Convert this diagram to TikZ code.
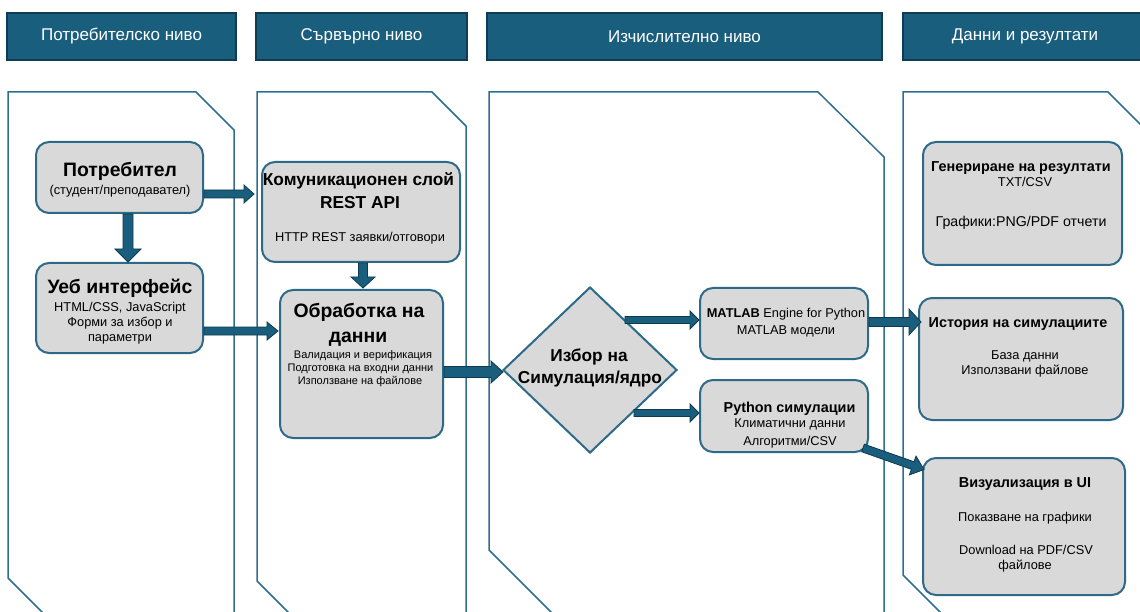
\documentclass[tikz,border=0pt]{standalone}
\usepackage{fontspec}
\setmainfont{Liberation Sans}
\usetikzlibrary{calc,shapes.geometric}

\definecolor{headfill}{HTML}{1A5E7E}
\definecolor{headline}{HTML}{0E3C52}
\definecolor{panelline}{HTML}{2E6F8F}
\definecolor{boxfill}{HTML}{D9D9D9}
\definecolor{boxline}{HTML}{2D6A88}
\definecolor{arrowfill}{HTML}{1A5E7E}
\definecolor{arrowline}{HTML}{0D3A50}

% block arrow from #1 to #2: shaft width #3, head width #4, head length #5
\newcommand{\blockarrow}[5]{%
  \coordinate (hb) at ($(#2)!#5pt!(#1)$);
  \draw[fatarrow]
    ($(#1)!#3pt/2!90:(#2)$) -- ($(hb)!#3pt/2!-90:(#1)$) -- ($(hb)!#4pt/2!-90:(#1)$)
    -- (#2) -- ($(hb)!#4pt/2!90:(#1)$) -- ($(hb)!#3pt/2!90:(#1)$)
    -- ($(#1)!#3pt/2!-90:(#2)$) -- cycle;}

\tikzset{
  header/.style={draw=headline, line width=1.2pt, fill=headfill, text=white,
    inner sep=0pt, font=\fontsize{17}{20}\selectfont},
  panel/.style={draw=panelline, line width=1.5pt, line join=miter},
  card/.style={draw=boxline, fill=boxfill, line width=2pt, rounded corners=13pt,
    inner sep=0pt},
  choice/.style={diamond, draw=boxline, fill=boxfill, line width=2pt, inner sep=0pt},
  fatarrow/.style={fill=arrowfill, draw=arrowline, line width=0.8pt, line join=miter},
  txt/.style={anchor=base, inner sep=0pt, text=black},
  big/.style={txt, font=\fontsize{19.4}{22}\selectfont\bfseries},
  mid/.style={txt, font=\fontsize{17.3}{20}\selectfont\bfseries},
  sub/.style={txt, font=\fontsize{14.4}{17}\selectfont\bfseries},
  body/.style={txt, font=\fontsize{12.8}{15}\selectfont},
  wide/.style={txt, font=\fontsize{14.2}{17}\selectfont},
  small/.style={txt, font=\fontsize{11}{13}\selectfont},
}

\begin{document}
\begin{tikzpicture}[x=1pt, y=-1pt]
\useasboundingbox (0,0) rectangle (1140,612);

% column panels
\draw[panel] (50,620) -- (8,578) -- (8,92) -- (196,92) -- (234,130) -- (234,620);
\draw[panel] (296,620) -- (257,581) -- (257,92) -- (432,92) -- (466,126) -- (466,620);
\draw[panel] (559,620) -- (489,550) -- (489,92) -- (818,92) -- (884,157) -- (884,620);
\draw[panel] (948,620) -- (903,575) -- (903,92) -- (1108,92) -- (1160,144);

% column headers
\node[header, minimum width=229pt, minimum height=47pt] (h1) at (121.5,36.5) {Потребителско ниво};
\node[header, minimum width=211pt, minimum height=47pt] (h2) at (361.5,36.5) {Сървърно ниво};
\node[header, minimum width=395pt, minimum height=47pt] (h3) at (684.5,36.5) {Изчислително ниво};
\node[header, minimum width=244pt, minimum height=47pt] (h4) at (1025,36.5) {Данни и резултати};

% user level
\node[card, minimum width=167pt, minimum height=71pt] (user) at (119.5,177.5) {};
\node[big]  (userA) at (120,177) {Потребител};
\node[body] (userB) at (120,194.5) {(студент/преподавател)};

\node[card, minimum width=167pt, minimum height=90pt] (web) at (119.5,308) {};
\node[big]  (webA) at (120,294) {Уеб интерфейс};
\node[body] (webB) at (120,311.5) {HTML/CSS, JavaScript};
\node[body] (webC) at (120,326.5) {Форми за избор и};
\node[body] (webD) at (120,341.5) {параметри};

% server level
\node[card, minimum width=198pt, minimum height=100pt] (comm) at (361,212) {};
\node[mid]  (commA) at (358.5,186) {Комуникационен слой};
\node[mid]  (commB) at (360,209) {REST API};
\node[body] (commC) at (360,241.5) {HTTP REST заявки/отговори};

\node[card, minimum width=163pt, minimum height=148pt] (proc) at (361.5,364) {};
\node[big]   (procA) at (359,317) {Обработка на};
\node[big]   (procB) at (358,342) {данни};
\node[small] (procC) at (363,358) {Валидация и верификация};
\node[small] (procD) at (360.5,371) {Подготовка на входни данни};
\node[small] (procE) at (360,384) {Използване на файлове};

% computing level
\node[choice, minimum width=174pt, minimum height=166pt] (sel) at (590,370) {};
\node[mid] (selA) at (589,361.5) {Избор на};
\node[mid] (selB) at (590,383.5) {Симулация/ядро};

\node[card, minimum width=168pt, minimum height=71pt] (mat) at (784,323.5) {};
\node[body] (matA) at (786,317.5) {\textbf{MATLAB} Engine for Python};
\node[body] (matB) at (786,334.5) {MATLAB модели};

\node[card, minimum width=168pt, minimum height=72pt] (py) at (784,416) {};
\node[sub]  (pyA) at (789.5,412.5) {Python симулации};
\node[body] (pyB) at (790,427.5) {Климатични данни};
\node[body] (pyC) at (790,445.5) {Алгоритми/CSV};

% data and results
\node[card, minimum width=199pt, minimum height=123pt] (gen) at (1022.5,203.5) {};
\node[sub]  (genA) at (1021,171.5) {Генериране на резултати};
\node[body] (genB) at (1025,186.5) {TXT/CSV};
\node[wide] (genC) at (1021,227) {Графики:PNG/PDF отчети};

\node[card, minimum width=204pt, minimum height=122pt] (hist) at (1021,359) {};
\node[sub]  (histA) at (1018,327.5) {История на симулациите};
\node[body] (histB) at (1025,359.5) {База данни};
\node[body] (histC) at (1025,374.5) {Използвани файлове};

\node[card, minimum width=202pt, minimum height=137pt] (vis) at (1024,526.5) {};
\node[sub]  (visA) at (1025,487.5) {Визуализация в UI};
\node[body] (visB) at (1025,521.5) {Показване на графики};
\node[body] (visC) at (1026,554.5) {Download на PDF/CSV};
\node[body] (visD) at (1025,569.5) {файлове};

% connectors
\coordinate (a1s) at ($(user.south)+(8.5,0)$);
\coordinate (a1e) at (a1s |- web.north);
\blockarrow{a1s}{a1e}{10}{26}{13}

\coordinate (a2s) at ($(user.east)+(0,16.5)$);
\coordinate (a2e) at ($(comm.west |- a2s)+(-7,0)$);
\blockarrow{a2s}{a2e}{8}{18}{10}

\coordinate (a3s) at ($(web.east)+(0,23)$);
\coordinate (a3e) at ($(proc.west |- a3s)+(-1,0)$);
\blockarrow{a3s}{a3e}{8}{18}{11}

\coordinate (a4s) at ($(comm.south)+(2,0)$);
\coordinate (a4e) at ($(a4s |- proc.north)+(0,-1)$);
\blockarrow{a4s}{a4e}{9}{24}{11}

\coordinate (a5s) at ($(proc.east)+(0,8)$);
\coordinate (a5e) at ($(sel.west |- a5s)+(1,0)$);
\blockarrow{a5s}{a5e}{11}{22}{12}

\coordinate (a6e) at ($(mat.west)+(0,-3.5)$);
\coordinate (a6s) at ($(sel.north east |- a6e)+(-9,0)$);
\blockarrow{a6s}{a6e}{7}{18}{9}

\coordinate (a7e) at ($(py.west)+(0,-3)$);
\coordinate (a7s) at ($(sel.south east |- a7e)+(0,0)$);
\blockarrow{a7s}{a7e}{7}{18}{9}

\coordinate (a8s) at ($(mat.east)+(0,-1.5)$);
\coordinate (a8e) at ($(hist.west |- a8s)+(3,0)$);
\blockarrow{a8s}{a8e}{9}{26}{12}

\coordinate (a9s) at ($(py.south east)+(-6,-5)$);
\coordinate (a9e) at ($(vis.north west)+(2,12.5)$);
\blockarrow{a9s}{a9e}{8}{20}{12}

\end{tikzpicture}
\end{document}
